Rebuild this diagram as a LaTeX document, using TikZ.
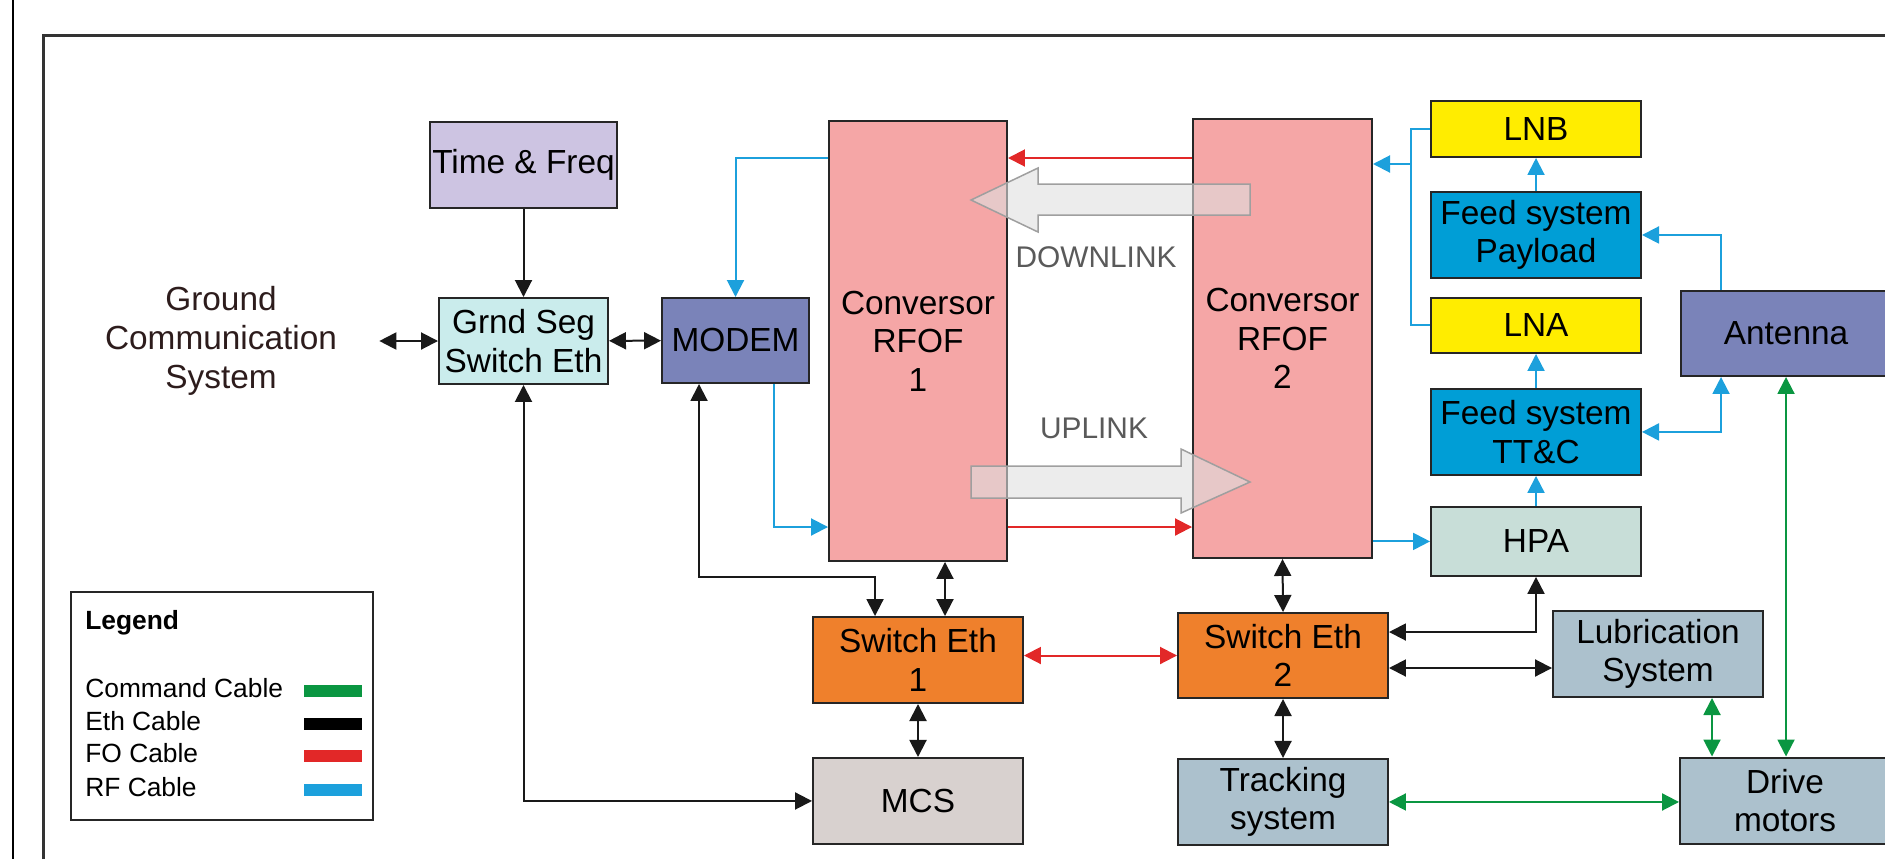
\documentclass[tikz,border=0pt]{standalone}
\usepackage{fontspec}
\setmainfont{Liberation Sans}
\usetikzlibrary{arrows.meta,positioning,calc}

\definecolor{timec}{RGB}{205,196,226}
\definecolor{grndc}{RGB}{202,236,236}
\definecolor{modemc}{RGB}{122,131,185}
\definecolor{convc}{RGB}{245,166,166}
\definecolor{lnc}{RGB}{255,237,0}
\definecolor{feedc}{RGB}{0,158,214}
\definecolor{hpac}{RGB}{200,222,216}
\definecolor{swc}{RGB}{239,128,44}
\definecolor{mechc}{RGB}{172,193,205}
\definecolor{mcsc}{RGB}{216,209,207}
\definecolor{rfc}{RGB}{28,160,220}
\definecolor{foc}{RGB}{226,40,40}
\definecolor{cmdc}{RGB}{10,150,65}
\definecolor{gcsc}{RGB}{45,28,28}
\definecolor{linkc}{RGB}{90,90,90}

\newcommand{\boxfont}{\fontsize{19}{22}\selectfont}
\newcommand{\legfont}{\fontsize{15}{18}\selectfont}
\newcommand{\linkfont}{\fontsize{17}{20}\selectfont}

\begin{document}
\begin{tikzpicture}[x=0.02cm, y=-0.02cm,
  >={Triangle[length=0.34cm,width=0.34cm]},
  blk/.style={draw=black!85, line width=0.04cm, align=center, font=\boxfont, inner sep=0pt, minimum width=4.2cm, minimum height=1.72cm},
  eth/.style={line width=0.04cm, black!90},
  fo/.style={line width=0.04cm, foc},
  rf/.style={line width=0.04cm, rfc},
  cmd/.style={line width=0.04cm, cmdc},
  bigarr/.style={draw=gray!75, line width=0.03cm, fill=gray!25, fill opacity=0.6},
  swatch/.style={line width=0.24cm}]
\useasboundingbox (0,0) rectangle (1885,859);
% frame
\draw[line width=0.04cm] (13,0) -- (13,859);
\draw[line width=0.06cm, black!80] (43,859) -- (43,35) -- (1885,35);

% ground segment
\node[blk, fill=timec, minimum width=3.74cm] (time) at (523.5,165) {Time \& Freq};
\node[blk, fill=grndc, minimum width=3.38cm] (grnd) at (523.5,341) {Grnd Seg\\Switch Eth};
\node[font=\boxfont, text=gcsc, align=center, minimum width=6.32cm, inner sep=0pt] (gcs) at (221,341) {Ground\\Communication\\System};
\node[blk, fill=modemc, minimum width=2.94cm, minimum height=1.7cm] (modem) at (735.5,340.5) {MODEM};
\node[blk, fill=convc, minimum width=3.56cm, minimum height=8.8cm] (conv1) at (918,341) {Conversor\\RFOF\\1};
\node[blk, fill=convc, minimum width=3.58cm, minimum height=8.78cm] (conv2) at (1282.5,338.5) {Conversor\\RFOF\\2};

% RF chain
\node[blk, fill=lnc, minimum height=1.12cm] (lnb) at (1536,129) {LNB};
\node[blk, fill=feedc, below=0.66cm of lnb] (fpl) {Feed system\\Payload};
\node[blk, fill=lnc, minimum height=1.1cm, below=0.36cm of fpl] (lna) {LNA};
\node[blk, fill=feedc, below=0.68cm of lna] (ftt) {Feed system\\TT\&C};
\node[blk, fill=hpac, minimum height=1.38cm, below=0.6cm of ftt] (hpa) {HPA};
\node[blk, fill=modemc, minimum height=1.7cm] (ant) at (1786,333.5) {Antenna};

% switches and mechanics
\node[blk, fill=swc] (sw1) at (918,660) {Switch Eth\\1};
\node[blk, fill=swc, minimum height=1.7cm] (sw2) at (1283,655.5) {Switch Eth\\2};
\node[blk, fill=mcsc, below=1.06cm of sw1] (mcs) {MCS};
\node[blk, fill=mechc, below=1.18cm of sw2] (trk) {Tracking\\system};
\node[blk, fill=mechc] (lub) at (1658,654) {Lubrication\\System};
\node[blk, fill=mechc] (drv) at (1785,800.5) {Drive\\motors};

% up/down links
\draw[bigarr] (1250,184) -- (1038,184) -- (1038,168) -- (971,200) -- (1038,232) -- (1038,215) -- (1250,215) -- cycle;
\draw[bigarr] (971,466) -- (1181,466) -- (1181,449) -- (1250,482) -- (1181,513) -- (1181,498) -- (971,498) -- cycle;
\node[font=\linkfont, text=linkc] (dlink) at (1096,257) {DOWNLINK};
\node[font=\linkfont, text=linkc] (ulink) at (1094,428) {UPLINK};

% cables
\coordinate (yfa) at (0,158);
\coordinate (yfb) at (0,527);
\coordinate (yrx) at (0,164);
\draw[eth,<->] (gcs) -- (grnd);
\draw[eth,->] (time) -- (grnd);
\draw[eth,<->] (grnd) -- (modem);
\draw[rf,->] (conv1.west |- yfa) -| (modem.north);
\draw[fo,->] (conv2.west |- yfa) -- (conv1.east |- yfa);
\draw[fo,->] (conv1.east |- yfb) -- (conv2.west |- yfb);
\draw[rf,->] ([xshift=0.77cm]modem.south) |- (conv1.west |- yfb);
\draw[eth,<->] ([xshift=-0.73cm]modem.south) -- ++(0,193) -| ([xshift=-0.86cm]sw1.north);
\draw[eth,<->] ([xshift=0.54cm]conv1.south) -- ([xshift=0.54cm]sw1.north);
\draw[fo,<->] (sw1.east |- sw2) -- (sw2.west);
\draw[eth,<->] (sw1) -- (mcs);
\draw[eth,<->] (grnd.south) |- (mcs.west);
\draw[eth,<->] (conv2.south) -- (sw2.north);
\draw[eth,<->] (sw2) -- (trk);
\draw[eth,<->] ([yshift=0.47cm]sw2.east) -| (hpa.south);
\coordinate (s2l) at ([yshift=-0.25cm]sw2.east);
\draw[eth,<->] (s2l) -- (s2l -| lub.west);
\draw[rf,->] (conv2.east |- hpa) -- (hpa.west);
\draw[rf,->] (hpa) -- (ftt);
\draw[rf,->] (ftt) -- (lna);
\draw[rf,->] (fpl) -- (lnb);
\coordinate (rx) at ([xshift=-0.38cm]lnb.west);
\draw[rf] (lnb.west) -- (rx) |- (lna.west);
\draw[rf,->] (rx |- yrx) -- (conv2.east |- yrx);
\draw[rf,->] ([xshift=-1.3cm]ant.north) |- (fpl.east);
\draw[rf,<->] (ftt.east) -| ([xshift=-1.3cm]ant.south);
\draw[cmd,<->] (ant.south) -- (ant.south |- drv.north);
\coordinate (ld) at ([xshift=1.08cm]lub.south);
\draw[cmd,<->] (ld) -- (ld |- drv.north);
\draw[cmd,<->] (trk.east) -- (trk.east -| drv.west);

% legend
\node[draw=black!85, line width=0.04cm, minimum width=6.04cm, minimum height=4.56cm, inner sep=0pt] (legend) at (222,706) {};
\node[font=\legfont\bfseries, anchor=west, inner sep=0pt] (legtitle) at (85,623) {Legend};
\foreach \lab/\col/\yy [count=\i] in {Command Cable/cmdc/688, Eth Cable/black/721, FO Cable/foc/753, RF Cable/rfc/787} {
  \node[font=\legfont, anchor=west, inner sep=0pt] (leg\i) at (85,\yy) {\lab};
  \draw[swatch, \col] (304,\yy+3) -- (362,\yy+3);
}
\end{tikzpicture}
\end{document}
